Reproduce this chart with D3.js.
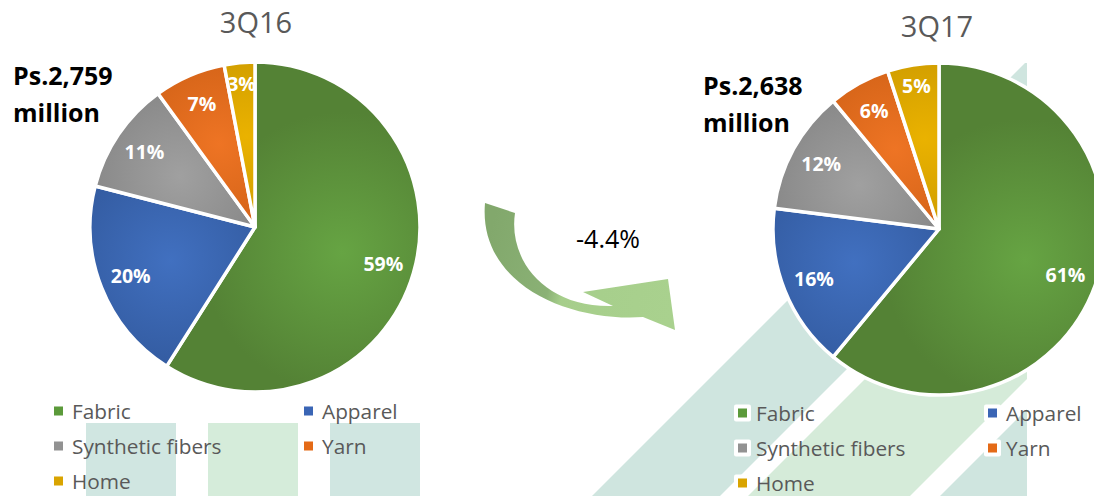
<!DOCTYPE html>
<html>
<head>
<meta charset="utf-8">
<script src="https://cdn.jsdelivr.net/npm/d3@7"></script>
<style>
  html, body { margin: 0; padding: 0; background: #ffffff; }
  svg { display: block; }
</style>
</head>
<body>
<svg id="chart" width="1094" height="496"></svg>
<script>
// ---------- data ----------
const categories = ["Fabric", "Apparel", "Synthetic fibers", "Yarn", "Home"];
const periods = ["3Q16", "3Q17"];
const share3Q16 = [59, 20, 11, 7, 3];
const share3Q17 = [61, 16, 12, 6, 5];
const totals = ["Ps.2,759", "Ps.2,638"];
const totalUnit = "million";
const changeLabel = "-4.4%";

// ---------- styles ----------
const lightColors = ["#66a443", "#4170c0", "#a0a0a0", "#ee7424", "#eab200"];
const darkColors  = ["#548235", "#2f5597", "#7b7b7b", "#c55a11", "#bf9000"];
const legendColors = ["#5b9a3a", "#3a65b5", "#929292", "#e46a17", "#d9a400"];
const font = "'Open Sans', 'Noto Sans', sans-serif";

const svg = d3.select("#chart");
const defs = svg.append("defs");

// ---------- background decoration ----------
const bg = svg.append("g");
defs.append("clipPath").attr("id", "stripeClip")
  .append("rect").attr("x", 0).attr("y", 63).attr("width", 1027).attr("height", 496 - 63);
const stripes = [
  { l: 1088, r: 1216, fill: "#cfe5df" },
  { l: 1244, r: 1406, fill: "#d5ebd9" },
  { l: 1436, r: 1700, fill: "#cfe5df" }
];
const sg = bg.append("g").attr("clip-path", "url(#stripeClip)");
stripes.forEach(s => {
  // edges follow x = c - y (45 degrees)
  const pts = [[s.l - 496, 496], [s.r - 496, 496], [s.r - 0, 0], [s.l - 0, 0]];
  sg.append("path").attr("d", "M" + pts.map(p => p.join(",")).join("L") + "Z").attr("fill", s.fill);
});
const bars = [
  { x: 86, fill: "#d0e6e1" },
  { x: 208, fill: "#d5ecda" },
  { x: 330, fill: "#d0e6e1" }
];
bars.forEach(b => {
  bg.append("rect").attr("x", b.x).attr("y", 423).attr("width", 90).attr("height", 80).attr("fill", b.fill);
});

// ---------- curved arrow ----------
const ag = defs.append("linearGradient").attr("id", "arrowGrad")
  .attr("gradientUnits", "userSpaceOnUse")
  .attr("x1", 485).attr("y1", 250).attr("x2", 675).attr("y2", 300);
ag.append("stop").attr("offset", 0).attr("stop-color", "#82a86c");
ag.append("stop").attr("offset", 0.36).attr("stop-color", "#8ab175");
ag.append("stop").attr("offset", 0.44).attr("stop-color", "#a6ce8b");
ag.append("stop").attr("offset", 1).attr("stop-color", "#a9d18e");
svg.append("path")
  .attr("d", "M485,203 L515,213 C508,260 545,308 613,306 L583,292 L668,279 L675,330 L643,317 C570,322 478,285 485,203 Z")
  .attr("fill", "url(#arrowGrad)");

svg.append("text")
  .attr("x", 608).attr("y", 248)
  .attr("text-anchor", "middle")
  .attr("font-family", font).attr("font-size", 25)
  .attr("fill", "#000000")
  .text(changeLabel);

// ---------- pies ----------
const pies = [
  { values: share3Q16, cx: 255, cy: 227, r: 165, title: periods[0], tx: 256, ty: 33, total: totals[0], totX: 13, totY: 85,
    legend: { x1: 54, x2: 304, y: 411, box: false } },
  { values: share3Q17, cx: 939, cy: 229, r: 166, title: periods[1], tx: 937, ty: 37, total: totals[1], totX: 703, totY: 95,
    legend: { x1: 738, x2: 988, y: 413, box: true } }
];

const pieGen = d3.pie().sort(null).value(d => d);

pies.forEach((p, pi) => {
  // title
  svg.append("text")
    .attr("x", p.tx).attr("y", p.ty)
    .attr("text-anchor", "middle")
    .attr("font-family", font).attr("font-size", 29)
    .attr("fill", "#595959")
    .text(p.title);

  const g = svg.append("g").attr("transform", `translate(${p.cx},${p.cy})`);
  const arc = d3.arc().innerRadius(0).outerRadius(p.r);
  const arcs = pieGen(p.values);

  arcs.forEach((a, i) => {
    const c = d3.arc().innerRadius(p.r * 0.55).outerRadius(p.r * 0.55).centroid(a);
    const gr = defs.append("radialGradient").attr("id", `grad-${pi}-${i}`)
      .attr("gradientUnits", "userSpaceOnUse")
      .attr("cx", c[0]).attr("cy", c[1]).attr("r", p.r * 0.85);
    gr.append("stop").attr("offset", 0).attr("stop-color", lightColors[i]);
    gr.append("stop").attr("offset", 1).attr("stop-color", darkColors[i]);
  });

  g.selectAll("path.slice")
    .data(arcs)
    .join("path")
    .attr("class", "slice")
    .attr("d", arc)
    .attr("fill", (d, i) => `url(#grad-${pi}-${i})`)
    .attr("stroke", "#ffffff")
    .attr("stroke-width", 3.5)
    .attr("stroke-linejoin", "round");

  g.selectAll("text.lbl")
    .data(arcs)
    .join("text")
    .attr("class", "lbl")
    .attr("transform", d => {
      const lr = d.data < 6 ? p.r * 0.87 : p.r * 0.81;
      const c = d3.arc().innerRadius(lr).outerRadius(lr).centroid(d);
      return `translate(${c[0]},${c[1]})`;
    })
    .attr("dy", "0.36em")
    .attr("text-anchor", "middle")
    .attr("font-family", font).attr("font-weight", 700).attr("font-size", 19.5)
    .attr("fill", "#ffffff")
    .text(d => d.data + "%");

  // total
  const t = svg.append("text")
    .attr("font-family", font).attr("font-weight", 700).attr("font-size", 25)
    .attr("fill", "#000000");
  t.append("tspan").attr("x", p.totX).attr("y", p.totY).text(p.total);
  t.append("tspan").attr("x", p.totX).attr("y", p.totY + 37).text(totalUnit);

  // legend
  const L = p.legend;
  const items = categories.map((name, i) => ({
    name, i,
    x: i % 2 === 0 ? L.x1 : L.x2,
    y: L.y + Math.floor(i / 2) * 35
  }));
  const lg = svg.append("g");
  const it = lg.selectAll("g").data(items).join("g")
    .attr("transform", d => `translate(${d.x},${d.y})`);
  if (L.box) {
    it.append("rect").attr("x", -4).attr("y", -8.5).attr("width", 17).attr("height", 17)
      .attr("rx", 2).attr("fill", "#ffffff");
  }
  it.append("rect").attr("x", 0).attr("y", -4.5).attr("width", 9).attr("height", 9)
    .attr("fill", d => legendColors[d.i]);
  it.append("text").attr("x", 18).attr("dy", "0.36em")
    .attr("font-family", font).attr("font-size", 20.8)
    .attr("fill", "#595959")
    .text(d => d.name);
});
</script>
</body>
</html>
